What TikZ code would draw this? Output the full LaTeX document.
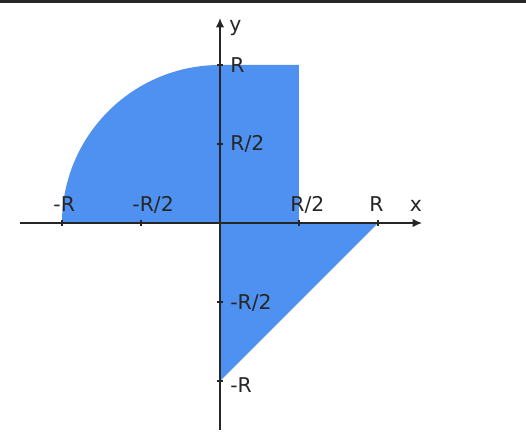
\documentclass[tikz,border=0pt]{standalone}
\usepackage{fontspec}
\setmainfont{DejaVu Sans}
\usetikzlibrary{arrows.meta, math}
\definecolor{myblue}{RGB}{78,145,240}

\begin{document}
\begin{tikzpicture}[
  axis/.style={line width=0.7pt, color=black!85, -{Latex[length=5pt,width=4.5pt]}},
  lbl/.style={font=\fontsize{11}{13}\selectfont, inner sep=0pt, text=black!85},
  tick/.style={line width=0.7pt, color=black!85}]
\tikzmath{
\R=3.;
\h=\R/2;
\d=0.05;
}
\useasboundingbox (-4.177,-4.120) rectangle (5.810,4.234);
\fill[black!85] (-4.177,4.175) rectangle (5.810,4.234);

%region
\fill[myblue] (0,0) -- (-\R,0) arc (180:90:\R) -- (\h,\R) -- (\h,0) -- (\R,0) -- (0,-\R) -- cycle;

%axes
\coordinate (xl) at (-3.80,0);
\coordinate (xr) at (3.835,0);
\coordinate (yb) at (0,-3.93);
\coordinate (yt) at (0,3.89);
\draw[axis] (xl) -- (xr);
\draw[axis] (yb) -- (yt);
\node[lbl, anchor=base west] (xlab) at (3.60,0.21) {x};
\node[lbl, anchor=base west] (ylab) at (0.17,3.645) {y};

%ticks
\foreach \t in {-\R,-\h,\h,\R}{
  \draw[tick] (\t,-\d) -- (\t,\d);
  \draw[tick] (-\d,\t) -- (\d,\t);
}
\node[lbl, anchor=base west] (xa) at (-\R-0.17,0.21) {-R};
\node[lbl, anchor=base west] (xb) at (-\h-0.17,0.21) {-R/2};
\node[lbl, anchor=base west] (xc) at (\h-0.17,0.21) {R/2};
\node[lbl, anchor=base west] (xd) at (\R-0.17,0.21) {R};
\node[lbl, anchor=west] (yd) at (0.19,\R) {R};
\node[lbl, anchor=west] (yc) at (0.19,\h) {R/2};
\node[lbl, anchor=west] (yb) at (0.19,-\h-0.02) {-R/2};
\node[lbl, anchor=west] (ya) at (0.19,-\R-0.07) {-R};
\end{tikzpicture}
\end{document}
